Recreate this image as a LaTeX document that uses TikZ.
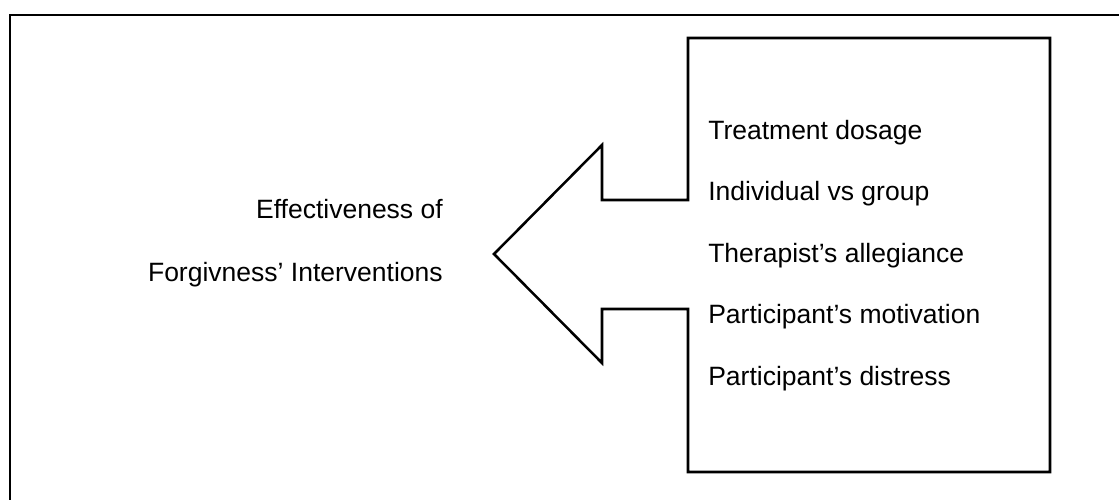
\documentclass[tikz,border=0pt]{standalone}
\usepackage{fontspec}
\setmainfont{Liberation Sans}
\usetikzlibrary{positioning}
\tikzset{
        % text of the diagram
        label_text/.style={inner sep=0pt, font=\fontsize{18.85pt}{22pt}\selectfont},
        % factors listed in the box
        node_factor/.style={label_text, anchor=base west},
        % outcome on the left
        node_outcome/.style={label_text, anchor=base east},
        % outlines
        frame_line/.style={draw=black, line width=2.1pt},
        shape_line/.style={draw=black, line width=1.8pt, line join=miter}
}
\begin{document}
\begin{tikzpicture}[x=0.025cm, y=-0.025cm]
            \useasboundingbox (0,0) rectangle (1119,500);
            \clip (0,0) rectangle (1119,500);
            \draw[frame_line] (10,15) rectangle (1150,530);
            % box with the arrow pointing left
            \coordinate (box_tl) at (688,38);
            \coordinate (box_tr) at (1050,38);
            \coordinate (box_br) at (1050,472);
            \coordinate (box_bl) at (688,472);
            \coordinate (tip) at (494,254);
            \draw[shape_line] (box_tl) -- (box_tr) -- (box_br) -- (box_bl)
                -- (688,309) -- (602,309) -- (602,363) -- (tip)
                -- (602,145) -- (602,200) -- (688,200) -- cycle;
            \foreach \t [count=\i] in {Treatment dosage, Individual vs group,
                Therapist’s allegiance, Participant’s motivation, Participant’s distress}
                \node[node_factor] (factor\i) at (708,{139+61.6*(\i-1)}) {\t};
            \node[node_outcome] (outcome1) at (443,218.7) {Effectiveness of};
            \node[node_outcome] (outcome2) at (443,281) {Forgivness’ Interventions};
\end{tikzpicture}
\end{document}
